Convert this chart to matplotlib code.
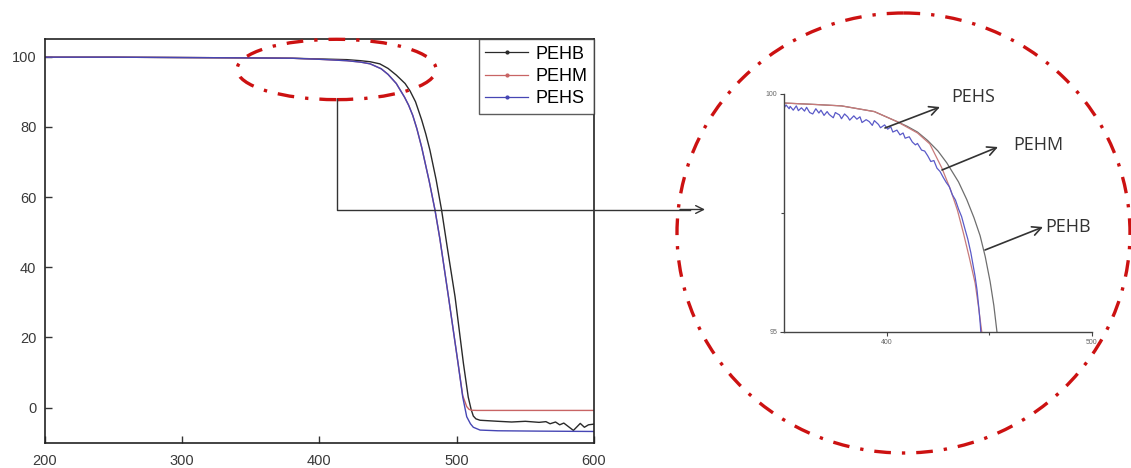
import matplotlib
matplotlib.use("Agg")
import matplotlib.pyplot as plt
from matplotlib.patches import Ellipse
from matplotlib.lines import Line2D

# ---------------- data ----------------
series_names = ["PEHB", "PEHM", "PEHS"]
series_colors = ["#2a2a2a", "#c86464", "#4646b4"]

# main plot (temperature vs weight %)
pehb_x = [200, 250, 300, 350, 380, 400, 420, 430, 437, 444, 450, 456, 462.4, 466, 470,
          474.5, 477.5, 480.5, 485, 489, 493.2, 498.8, 504.9, 508.4, 510.5, 512.1, 514,
          517, 530, 540, 550, 560, 565, 568, 572, 575, 578, 582, 585, 588, 590, 593, 596,
          600]
pehb_y = [99.9, 99.9, 99.8, 99.7, 99.6, 99.4, 99.2, 98.9, 98.6, 98.0, 96.7, 94.8, 92.4,
          90.3, 87.2, 82.0, 78.0, 73.4, 65.0, 56.3, 45.5, 31.6, 12.6, 3.0, -0.5, -2.4,
          -3.2, -3.6, -3.9, -4.1, -3.9, -4.2, -4.0, -4.6, -4.1, -4.9, -4.4, -5.6, -6.5,
          -5.3, -4.5, -5.6, -4.9, -4.7]

pehm_x = [200, 250, 300, 350, 380, 400, 420, 430, 437, 445, 450, 456, 462, 465, 468, 471,
          474.5, 480, 484.2, 487.8, 494, 501, 504.4, 507.3, 509, 511, 515, 540, 570, 600]
pehm_y = [99.9, 99.9, 99.8, 99.7, 99.6, 99.3, 98.9, 98.5, 98.0, 96.6, 95.0, 92.4, 88.5,
          86.2, 83.3, 79.5, 74.2, 64.5, 56.3, 48.0, 31.6, 12.6, 3.4, 0.3, -0.5, -0.75,
          -0.8, -0.8, -0.8, -0.8]

pehs_x = [200, 250, 300, 350, 380, 400, 420, 430, 437, 445, 450, 456, 462, 465, 468, 471,
          474.5, 480, 484.2, 487.8, 494, 501, 504.4, 507.3, 510, 512.1, 517, 530, 560, 600]
pehs_y = [99.9, 99.9, 99.8, 99.7, 99.6, 99.3, 98.9, 98.5, 98.0, 96.6, 95.0, 92.4, 88.5,
          86.2, 83.3, 79.5, 74.2, 64.5, 56.3, 48.0, 31.6, 12.6, 3.0, -2.6, -4.6, -5.6,
          -6.4, -6.6, -6.7, -6.8]

# zoomed inset
in_pehb_x = [350, 365, 378, 394, 405, 410, 415, 420, 425, 429.3, 435, 439, 442.5, 445.5,
             448, 450.4, 452.2, 453.7, 455]
in_pehb_y = [99.81, 99.78, 99.75, 99.63, 99.42, 99.32, 99.2, 99.02, 98.8, 98.55, 98.15,
             97.78, 97.4, 97.02, 96.58, 96.05, 95.55, 95.0, 94.5]

in_pehm_x = [350, 365, 378, 394, 405, 415, 421, 426.8, 431, 434.5, 437.4, 440.3, 443.1,
             444.8, 446.3, 447.5]
in_pehm_y = [99.81, 99.78, 99.75, 99.63, 99.42, 99.18, 98.95, 98.45, 98.0, 97.55, 97.07,
             96.55, 96.02, 95.5, 95.0, 94.6]

in_pehs_x = [350, 351, 352.5, 353, 354.5, 356, 357, 358.5, 360, 361, 362.5, 364, 365.5, 367,
             368, 369.5, 371, 372, 374, 375, 377, 378, 379.5, 381, 382, 384, 385.5, 387,
             388, 390, 391.5, 393, 394, 396, 397, 399, 400.5, 402, 403, 405, 406.5, 408,
             409, 411, 412.5, 414, 415, 417, 418.5, 420, 421.5, 423, 424.5, 426, 427.5,
             429, 430.5, 432, 433.5, 435, 436.5, 438, 439.5, 441, 442, 443, 444, 445,
             445.6, 446.5]
in_pehs_y = [99.70, 99.77, 99.69, 99.74, 99.66, 99.75, 99.65, 99.71, 99.64, 99.72, 99.61,
             99.58, 99.69, 99.60, 99.66, 99.55, 99.63, 99.57, 99.50, 99.61, 99.56, 99.48,
             99.58, 99.52, 99.45, 99.54, 99.47, 99.52, 99.40, 99.46, 99.42, 99.34, 99.44,
             99.36, 99.29, 99.35, 99.26, 99.31, 99.20, 99.24, 99.14, 99.18, 99.07, 99.10,
             98.99, 98.93, 98.96, 98.82, 98.80, 98.70, 98.58, 98.60, 98.44, 98.37, 98.25,
             98.14, 98.05, 97.88, 97.77, 97.58, 97.42, 97.18, 96.95, 96.66, 96.42, 96.18,
             95.88, 95.45, 95.15, 94.6]

main_xticks = [200, 300, 400, 500, 600]
main_yticks = [0, 20, 40, 60, 80, 100]
inset_xticks = [400, 500]
inset_yticks = [95, 100]

# ---------------- figure ----------------
W, H = 1131, 468
fig = plt.figure(figsize=(W / 100, H / 100), dpi=100)
plt.rcParams['font.family'] = ['Liberation Sans', 'DejaVu Sans']

ax = fig.add_axes([44.8 / W, 1 - 442.7 / H, (594 - 44.8) / W, (442.7 - 39.3) / H])
main_data = [(pehb_x, pehb_y), (pehm_x, pehm_y), (pehs_x, pehs_y)]
for (xs, ys), c in zip(main_data, series_colors):
    ax.plot(xs, ys, color=c, lw=1.0)
ax.set_xlim(200, 600)
ax.set_ylim(-10, 105)
ax.set_xticks(main_xticks)
ax.set_yticks(main_yticks)
ax.tick_params(direction='in', length=5, width=1, labelsize=10.5, labelcolor='#3a3a3a',
               color='#333333')
ax.tick_params(axis='x', pad=8)
ax.tick_params(axis='y', pad=6)
for s in ax.spines.values():
    s.set_linewidth(1.2)
    s.set_color('#222222')

handles = [Line2D([], [], color=c, lw=0.9, marker='o', ms=2) for c in series_colors]
leg = ax.legend(handles, series_names, loc='upper right', borderaxespad=0, frameon=True,
                fancybox=False, fontsize=13, handlelength=2.4, numpoints=1,
                labelspacing=0.3, borderpad=0.35, handletextpad=0.4)
leg.get_frame().set_edgecolor('#333333')
leg.get_frame().set_linewidth(1.0)

# small dash-dot ellipse on main plot
ax.add_patch(Ellipse((412.5, 96.4), 145, 17.2, fill=False, ec='#cc1111', lw=2.4,
                     ls=(0, (5, 3.3, 1, 3.3)), clip_on=False, zorder=5))

# inset
ax2 = fig.add_axes([784 / W, 1 - 331.7 / H, (1092 - 784) / W, (331.7 - 94) / H])
inset_colors = ["#6e6e6e", "#c87a7a", "#5a5ac8"]
inset_data = [(in_pehb_x, in_pehb_y), (in_pehm_x, in_pehm_y), (in_pehs_x, in_pehs_y)]
for (xs, ys), c in zip(inset_data, inset_colors):
    ax2.plot(xs, ys, color=c, lw=0.9)
ax2.set_xlim(350, 500)
ax2.set_ylim(95, 100)
ax2.set_xticks(inset_xticks)
ax2.set_yticks(inset_yticks)
ax2.set_xticks([450], minor=True)
ax2.set_yticks([97.5], minor=True)
ax2.spines['top'].set_visible(False)
ax2.spines['right'].set_visible(False)
for s in ['left', 'bottom']:
    ax2.spines[s].set_color('#444444')
    ax2.spines[s].set_linewidth(1.0)
ax2.tick_params(which='both', direction='out', length=3, width=0.8, color='#444444',
                labelsize=5, labelcolor='#666666', pad=2)
ax2.tick_params(which='minor', length=2)
ax2.patch.set_alpha(0)

# overlay in pixel coordinates
ov = fig.add_axes([0, 0, 1, 1], zorder=10)
ov.set_xlim(0, W)
ov.set_ylim(H, 0)
ov.axis('off')
ov.patch.set_alpha(0)

ov.add_patch(Ellipse((903.5, 233), 453, 440, fill=False, ec='#cc1111', lw=2.4,
                     ls=(0, (5, 3.3, 1, 3.3))))
ov.plot([337, 337, 690], [99, 209.5, 209.5], color='#333333', lw=1.0)
ov.annotate('', xy=(705, 209.5), xytext=(680, 209.5),
            arrowprops=dict(arrowstyle='->', lw=1.0, color='#333333', shrinkA=0, shrinkB=0,
                            mutation_scale=14))

labels = [("PEHS", (951, 97), (885, 128), (940, 107)),
          ("PEHM", (1013, 145), (942, 170), (998, 147)),
          ("PEHB", (1045, 227), (985, 250), (1043, 227))]
for txt, tpos, a0, a1 in labels:
    ov.text(tpos[0], tpos[1], txt, fontsize=13, color='#333333', ha='left', va='center',
            family=['Open Sans', 'DejaVu Sans'])
    ov.annotate('', xy=a1, xytext=a0,
                arrowprops=dict(arrowstyle='->', lw=1.2, color='#333333', shrinkA=0,
                                shrinkB=0, mutation_scale=16))

fig.savefig('out.png', dpi=100)
